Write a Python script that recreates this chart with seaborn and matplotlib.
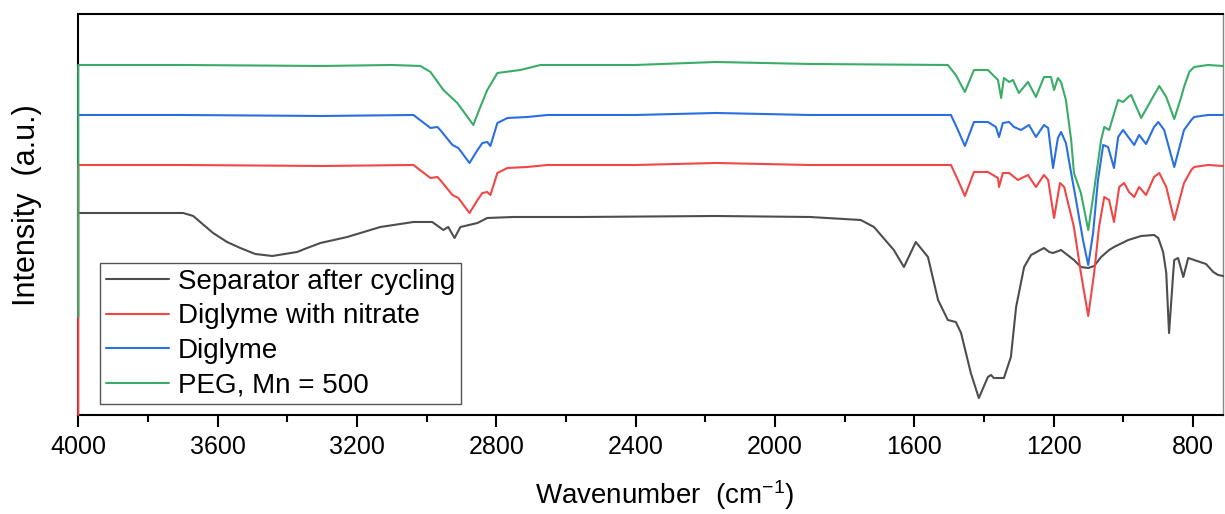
import pandas as pd
import matplotlib
matplotlib.use("Agg")
import matplotlib.pyplot as plt
import seaborn as sns
from matplotlib.ticker import MultipleLocator

# Sample names in legend order, and their line colours
samples = ["Separator after cycling", "Diglyme with nitrate", "Diglyme", "PEG, Mn = 500"]
colors = ["#4d4d4d", "#f24646", "#2a6fe0", "#3aac68"]

# Spectra (wavenumber in cm-1, intensity in offset a.u.)
sep_wn = [4000, 3699, 3670, 3650, 3613, 3573, 3535, 3492, 3443, 3372, 3343, 3305,
          3228, 3133, 3038, 2984,
          2952, 2938, 2920, 2903, 2854, 2826, 2751, 2558, 2170, 1900, 1754, 1716,
          1659, 1630, 1596, 1561, 1532, 1504, 1481, 1466, 1438, 1415, 1389, 1380,
          1372, 1343, 1323, 1308, 1285, 1265, 1228, 1213, 1202, 1179, 1142, 1122,
          1101, 1084, 1064, 1041, 1027, 986, 949, 912, 900, 886, 877, 869,
          857, 854, 843, 828, 814, 797, 763, 742, 728, 714]
sep_int = [202, 202, 199, 193, 182, 173, 167, 161, 159, 163, 167, 172,
           178, 188, 193, 193,
           185, 188, 177, 188, 192, 197, 198, 198, 199, 198, 195, 188,
           165, 148, 173, 158, 115, 95, 93, 82, 42, 17, 38, 40,
           37, 37, 58, 108, 148, 160, 167, 163, 162, 165, 155, 148,
           147, 149, 158, 165, 168, 175, 179, 180, 177, 163, 142, 82,
           142, 155, 157, 138, 157, 155, 151, 143, 140, 139]

nit_wn = [4000, 4000, 3700, 3300, 3038, 2989, 2969, 2961, 2926, 2909, 2877, 2854,
          2840, 2826, 2817, 2797, 2768, 2711, 2653, 2400, 2170, 1900, 1495, 1475,
          1455, 1429, 1389, 1360, 1357, 1346, 1328, 1303, 1274, 1251, 1228, 1216,
          1199, 1182, 1170, 1156, 1142, 1122, 1101, 1084, 1070, 1055, 1041, 1027,
          1012, 998, 984, 969, 955, 935, 912, 897, 877, 854, 826, 805,
          797, 757, 714]
nit_int = [0, 250, 250, 249, 250, 237, 238, 235, 220, 217, 202, 215,
           222, 223, 220, 242, 247, 248, 250, 250, 252, 250, 250, 235,
           219, 243, 243, 237, 228, 242, 242, 235, 240, 228, 240, 235,
           197, 232, 228, 208, 188, 142, 99, 142, 188, 218, 215, 193,
           228, 232, 223, 218, 228, 220, 238, 242, 228, 195, 232, 245,
           248, 250, 249]

dig_wn = [4000, 3700, 3300, 3038, 2989, 2969, 2961, 2926, 2909, 2877, 2854, 2840,
          2826, 2817, 2797, 2768, 2711, 2653, 2400, 2170, 1900, 1495, 1475, 1455,
          1429, 1389, 1366, 1357, 1346, 1328, 1314, 1294, 1271, 1251, 1228, 1216,
          1202, 1188, 1179, 1165, 1150, 1136, 1116, 1101, 1087, 1073, 1058, 1044,
          1027, 1015, 1001, 986, 969, 955, 935, 912, 900, 883, 854, 826,
          805, 797, 757, 714]
dig_int = [300, 300, 299, 300, 287, 288, 285, 270, 267, 252, 265, 272,
           273, 269, 292, 297, 298, 300, 300, 302, 300, 300, 285, 269,
           293, 293, 288, 278, 292, 293, 288, 285, 290, 278, 290, 287,
           247, 277, 283, 272, 242, 215, 175, 150, 182, 235, 270, 268,
           247, 278, 285, 278, 270, 280, 271, 288, 293, 285, 248, 285,
           295, 298, 300, 300]

peg_wn = [4000, 4000, 3700, 3300, 3100, 3018, 2989, 2952, 2912, 2866, 2846, 2826,
          2797, 2731, 2673, 2400, 2170, 1900, 1504, 1481, 1455, 1429, 1389, 1360,
          1351, 1343, 1328, 1317, 1300, 1274, 1251, 1228, 1208, 1199, 1188, 1179,
          1165, 1150, 1142, 1122, 1101, 1084, 1064, 1055, 1041, 1015, 1001, 986,
          978, 949, 920, 897, 877, 854, 834, 826, 811, 797, 757, 714]
peg_int = [98, 350, 350, 349, 350, 349, 343, 325, 312, 290, 308, 325,
           342, 345, 350, 350, 353, 351, 350, 340, 323, 345, 345, 335,
           317, 337, 333, 335, 322, 333, 318, 338, 338, 325, 337, 333,
           315, 275, 242, 222, 185, 225, 275, 288, 285, 315, 313, 318,
           320, 297, 315, 329, 318, 296, 318, 328, 343, 348, 350, 349]

# Long-form table for seaborn
frames = []
for name, wn, inten in zip(samples, [sep_wn, nit_wn, dig_wn, peg_wn],
                           [sep_int, nit_int, dig_int, peg_int]):
    frames.append(pd.DataFrame({"Wavenumber": wn, "Intensity": inten, "Sample": name}))
df = pd.concat(frames, ignore_index=True)

# Styling
sns.set_theme(style="ticks")
plt.rcParams["font.family"] = ["Liberation Sans", "DejaVu Sans"]
plt.rcParams["mathtext.fontset"] = "custom"
plt.rcParams["mathtext.rm"] = "Liberation Sans"
plt.rcParams["mathtext.it"] = "Liberation Sans:italic"
plt.rcParams["mathtext.bf"] = "Liberation Sans:bold"
plt.rcParams["text.color"] = "black"
plt.rcParams["axes.labelcolor"] = "black"

fig = plt.figure(figsize=(12.25, 5.14), dpi=100)
ax = fig.add_axes([0.0639, 0.1926, 0.9345, 0.7802])

sns.lineplot(
    data=df,
    x="Wavenumber",
    y="Intensity",
    hue="Sample",
    hue_order=samples,
    palette=dict(zip(samples, colors)),
    estimator=None,
    sort=False,
    linewidth=1.5,
    ax=ax
)

# lines sit on top of the frame, like the original
for line in ax.lines:
    line.set_clip_on(False)
    line.set_zorder(3)

ax.set_xlim(4000, 714)
ax.set_ylim(0, 401)

ax.xaxis.set_major_locator(MultipleLocator(400))
ax.xaxis.set_minor_locator(MultipleLocator(200))
ax.tick_params(axis="x", which="major", direction="out", length=8.5, width=1.5,
               labelsize=18, pad=6, colors="black")
ax.tick_params(axis="x", which="minor", direction="out", length=5, width=1.5,
               colors="black")
ax.tick_params(axis="y", left=False, labelleft=False)

for side in ["left", "bottom", "top"]:
    ax.spines[side].set_linewidth(1.5)
    ax.spines[side].set_color("black")
ax.spines["right"].set_linewidth(1.0)
ax.spines["right"].set_color("#888888")

ax.set_xlabel(r"Wavenumber  (cm$^{-1}$)", fontsize=20)
ax.xaxis.set_label_coords(0.5125, -0.158)
ax.set_ylabel("Intensity  (a.u.)", fontsize=22)
ax.yaxis.set_label_coords(-0.032, 0.524)

# Legend (rebuild from seaborn's handles)
old = ax.get_legend()
handles = old.legend_handles
labels = [t.get_text() for t in old.get_texts()]
leg = ax.legend(
    handles, labels,
    loc="lower left",
    bbox_to_anchor=(0.019, 0.027),
    borderaxespad=0,
    fontsize=20,
    handlelength=2.3,
    handletextpad=0.3,
    borderpad=0.2,
    labelspacing=0.31,
    fancybox=False,
    framealpha=1,
    edgecolor="#555555"
)
leg.get_frame().set_linewidth(1.0)

fig.savefig("out.png", dpi=100)
